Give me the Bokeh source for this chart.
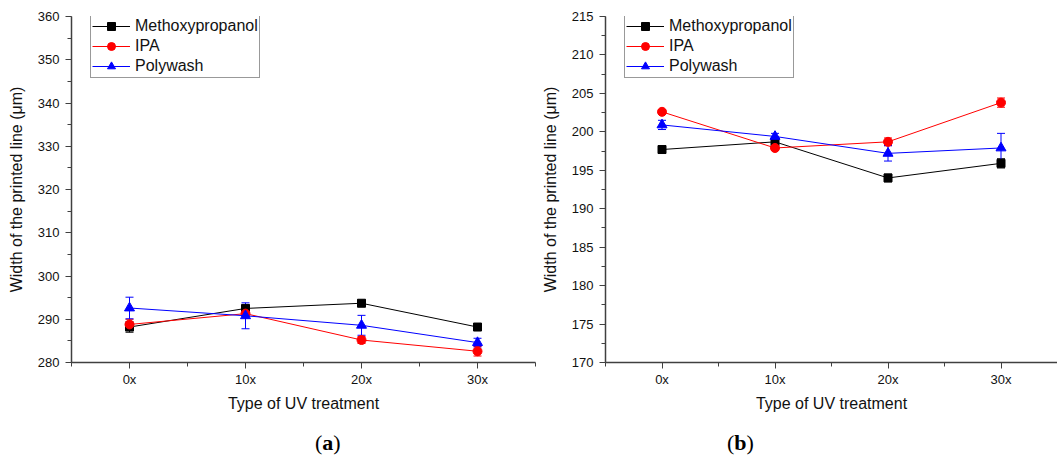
from bokeh.plotting import figure
from bokeh.layouts import row, column
from bokeh.models import (ColumnDataSource, Whisker, TeeHead, FixedTicker, SingleIntervalTicker,
                          Range1d, Legend, LegendItem, Div)
from bokeh.embed import file_html
from bokeh.resources import INLINE

categories = ["0x", "10x", "20x", "30x"]
series_names = ["Methoxypropanol", "IPA", "Polywash"]
series_colors = ["#000000", "#ff0000", "#0000ff"]
series_markers = ["square", "circle", "triangle"]

# Panel (a)
a_meth = [288.2, 292.5, 293.7, 288.2]
a_meth_err = [1.2, 0.6, 0.7, 0.6]
a_ipa = [288.8, 291.3, 285.2, 282.6]
a_ipa_err = [1.2, 0.7, 0.8, 1.1]
a_poly = [292.6, 290.8, 288.6, 284.6]
a_poly_err = [2.5, 3.0, 2.3, 1.0]

# Panel (b)
b_meth = [197.7, 198.7, 194.0, 195.9]
b_meth_err = [0.3, 0.4, 0.5, 0.6]
b_ipa = [202.6, 197.9, 198.7, 203.8]
b_ipa_err = [0.3, 0.3, 0.5, 0.6]
b_poly = [200.9, 199.4, 197.2, 197.9]
b_poly_err = [0.6, 0.4, 1.0, 1.9]

FONT = "Liberation Sans"
MARKER_SIZE = {"square": 8, "circle": 9, "triangle": 10}


def make_panel(vals, errs, ymin, ymax, ystep, width, bl, br):
    p = figure(width=width, height=430, output_backend="svg", toolbar_location=None,
               x_range=Range1d(-0.5, 3.5), y_range=Range1d(ymin, ymax),
               min_border_left=bl, min_border_right=br, min_border_top=16, min_border_bottom=68)
    p.grid.visible = False
    p.outline_line_color = None
    p.background_fill_color = "white"
    p.border_fill_color = "white"
    xs = list(range(len(categories)))
    items = []
    for name, color, marker, v, e in zip(series_names, series_colors, series_markers, vals, errs):
        src = ColumnDataSource(dict(x=xs, y=v,
                                    lo=[a - b for a, b in zip(v, e)],
                                    hi=[a + b for a, b in zip(v, e)]))
        w = Whisker(source=src, base="x", lower="lo", upper="hi", dimension="height",
                    line_color=color, line_width=1,
                    upper_head=TeeHead(size=8, line_color=color, line_width=1),
                    lower_head=TeeHead(size=8, line_color=color, line_width=1))
        p.add_layout(w)
        r1 = p.line("x", "y", source=src, line_color=color, line_width=1)
        r2 = p.scatter("x", "y", source=src, marker=marker, size=MARKER_SIZE[marker],
                       fill_color=color, line_color=color)
        items.append(LegendItem(label=name, renderers=[r1, r2]))
    leg = Legend(items=items, location=(19, 346 - 62), border_line_color="#333333",
                 border_line_width=1, label_text_font=FONT, label_text_font_size="16px",
                 label_text_color="#111111", glyph_width=38, glyph_height=20,
                 label_height=20, spacing=0, padding=1, margin=0, label_standoff=5,
                 background_fill_alpha=1.0)
    p.add_layout(leg)
    # axes
    p.xaxis.ticker = FixedTicker(ticks=[0, 1, 2, 3], minor_ticks=[-0.5, 0.5, 1.5, 2.5, 3.5])
    p.xaxis.major_label_overrides = {i: c for i, c in enumerate(categories)}
    p.yaxis.ticker = SingleIntervalTicker(interval=ystep, num_minor_ticks=2)
    for ax in (p.xaxis[0], p.yaxis[0]):
        ax.axis_line_color = "#404040"
        ax.axis_line_width = 1.5
        ax.major_tick_line_color = "#404040"
        ax.minor_tick_line_color = "#404040"
        ax.major_tick_in = 0
        ax.major_tick_out = 6
        ax.minor_tick_in = 0
        ax.minor_tick_out = 4
        ax.major_label_text_font = FONT
        ax.major_label_text_font_size = "13px"
        ax.major_label_text_color = "#111111"
        ax.axis_label_text_font = FONT
        ax.axis_label_text_font_size = "16px"
        ax.axis_label_text_font_style = "normal"
        ax.axis_label_text_color = "#111111"
    p.xaxis.axis_label = "Type of UV treatment"
    p.yaxis.axis_label = "Width of the printed line (μm)"
    p.xaxis.axis_label_standoff = 5
    p.yaxis.axis_label_standoff = 10
    p.xaxis.major_label_standoff = 3
    p.yaxis.major_label_standoff = 6
    return p


def make_tag(letter, width, left):
    html = ('<div style="font-family:\'Liberation Serif\';font-size:22px;line-height:26px;'
            'color:#000;margin-left:%dpx;white-space:nowrap;">(<b>%s</b>)</div>' % (left, letter))
    return Div(text=html, width=width, height=25, margin=(0, 0, 0, 0))


pa = make_panel([a_meth, a_ipa, a_poly], [a_meth_err, a_ipa_err, a_poly_err],
                280, 360, 10, 538, 71, 3)
pb = make_panel([b_meth, b_ipa, b_poly], [b_meth_err, b_ipa_err, b_poly_err],
                170, 215, 5, 519, 61, 0)

ta = make_tag("a", 538, 315)
tb = make_tag("b", 519, 727 - 538)

lay = column(row(pa, pb), row(ta, tb))
open("out.html", "w").write(file_html(lay, INLINE))
